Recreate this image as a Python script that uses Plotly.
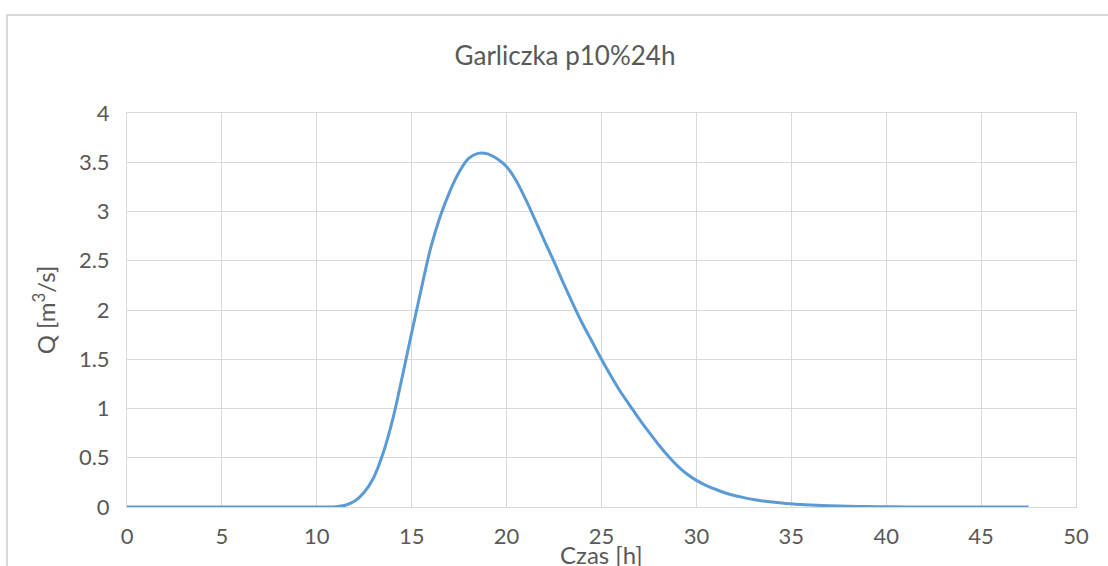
import plotly.graph_objects as go

# Data
time_h = [0, 1, 2, 3, 4, 5, 6, 7, 8, 9, 10, 10.5, 11, 11.5, 12, 12.5, 13, 13.5, 14, 14.5,
          15, 15.5, 16, 16.5, 17, 17.5, 18, 18.5, 19, 19.5, 20, 20.5, 21, 21.5, 22, 22.5,
          23, 23.5, 24, 24.5, 25, 25.5, 26, 26.5, 27, 27.5, 28, 28.5, 29, 29.5, 30, 30.5,
          31, 31.5, 32, 32.5, 33, 33.5, 34, 34.5, 35, 35.5, 36, 37, 38, 39, 40, 41, 42,
          43, 44, 45, 46, 47, 47.5]
flow_q = [0, 0, 0, 0, 0, 0, 0, 0, 0, 0, 0, 0.0, 0.002, 0.018, 0.06, 0.15, 0.30, 0.55, 0.89, 1.32,
          1.77, 2.21, 2.63, 2.95, 3.20, 3.40, 3.54, 3.59, 3.585, 3.535, 3.455, 3.315, 3.125, 2.915, 2.70, 2.49,
          2.27, 2.06, 1.86, 1.68, 1.50, 1.33, 1.17, 1.03, 0.89, 0.76, 0.635, 0.52, 0.418, 0.335, 0.27, 0.22,
          0.18, 0.145, 0.117, 0.095, 0.077, 0.062, 0.05, 0.04, 0.032, 0.025, 0.02, 0.012, 0.007, 0.004, 0.002, 0.001, 0.0005,
          0, 0, 0, 0, 0, 0]

chart_title = "Garliczka p10%24h"
x_title = "Czas [h]"
y_title = "Q [m<sup>3</sup>/s]"

TXT = "#595959"
GRID = "#d9d9d9"
FONT = "Lato, 'Open Sans', sans-serif"

fig = go.Figure()
fig.add_trace(go.Scatter(
    x=time_h, y=flow_q, mode="lines",
    line=dict(color="#5b9bd5", width=3, shape="spline", smoothing=1),
    showlegend=False, hoverinfo="x+y",
))

L, R, T, B = 127, 32, 113, 59
W, H = 1108, 566
pw, ph = W - L - R, H - T - B

fig.update_layout(
    width=W, height=H,
    margin=dict(l=L, r=R, t=T, b=B, autoexpand=False),
    paper_bgcolor="white", plot_bgcolor="white",
    font=dict(family=FONT, color=TXT, size=16),
    title=dict(text=chart_title, xref="container", yref="container",
               x=565 / W, y=1 - 56 / H, xanchor="center", yanchor="middle",
               font=dict(size=26, color=TXT, family=FONT)),
    xaxis=dict(range=[0, 50], dtick=5, tick0=0, showgrid=True, gridcolor=GRID, gridwidth=1,
               zeroline=False, showline=True, linecolor=GRID, linewidth=1, mirror=True,
               ticks="", ticklabelstandoff=10, tickfont=dict(size=22, color=TXT), automargin=False),
    yaxis=dict(range=[0, 4], dtick=0.5, tick0=0, showgrid=True, gridcolor=GRID, gridwidth=1,
               zeroline=False, showline=True, linecolor=GRID, linewidth=1, mirror=True,
               ticks="", ticklabelstandoff=12, tickfont=dict(size=22, color=TXT), automargin=False,
               title=dict(text=y_title, standoff=16, font=dict(size=24, color=TXT))),
)

# x-axis title placed just below the tick labels (slightly cut by the bottom edge, as in the reference)
fig.add_annotation(text=x_title, xref="paper", yref="paper", x=0.5, y=(T + ph - 554) / ph,
                   xanchor="center", yanchor="middle", showarrow=False,
                   font=dict(size=24, color=TXT, family=FONT))

# outer chart frame (left and top edges visible)
fig.add_shape(type="rect", xref="paper", yref="paper",
              x0=(7 - L) / pw, x1=(1130 - L) / pw,
              y0=-0.3, y1=(H - B - 15) / ph,
              line=dict(color=GRID, width=2), fillcolor="rgba(0,0,0,0)", layer="below")

fig.write_html("out.html")
